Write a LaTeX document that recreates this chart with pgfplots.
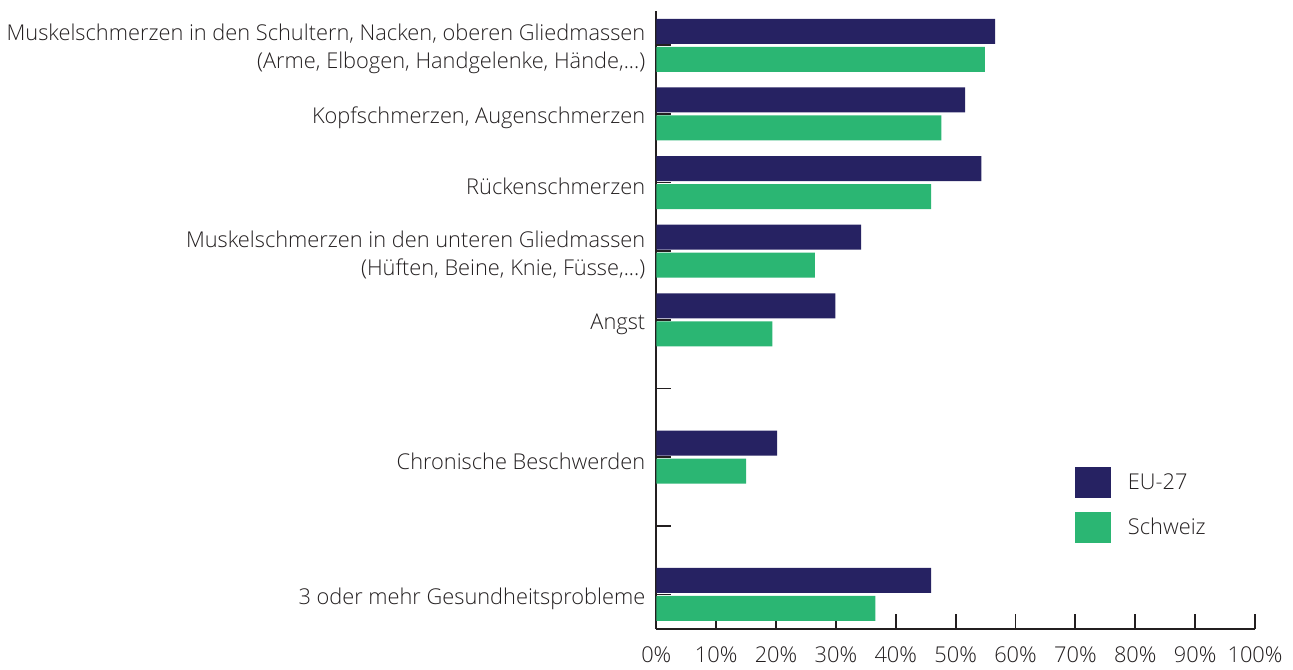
\documentclass[border=0pt]{standalone}
\usepackage{pgfplots}
\pgfplotsset{compat=1.18}
\usepackage{fontspec}
\setmainfont{Open Sans}[UprightFont=* Light]
\definecolor{eu}{RGB}{38,34,98}
\definecolor{ch}{RGB}{43,182,115}
\definecolor{txt}{RGB}{35,31,32}
\newcommand{\dd}{...}
\begin{document}
\begin{tikzpicture}
\begin{axis}[
  name=ax,
  scale only axis,
  width=299.5pt, height=309pt,
  xbar, bar width=12.5pt,
  xmin=0, xmax=100, ymin=-0.5, ymax=8.5,
  axis x line*=bottom, axis y line*=left,
  axis line style={color=txt, line width=0.9pt},
  xtick={0,10,20,30,40,50,60,70,80,90,100},
  xticklabel={\pgfmathprintnumber[assume math mode=true]{\tick}\%},
  ytick={0,1,2,3,4,5,6,7,8},
  yticklabels={
    {3 oder mehr Gesundheitsprobleme},
    {},
    {Chronische Beschwerden},
    {},
    {Angst},
    {Muskelschmerzen in den unteren Gliedmassen\\(Hüften, Beine, Knie, Füsse,\dd)},
    {Rückenschmerzen},
    {Kopfschmerzen, Augenschmerzen},
    {Muskelschmerzen in den Schultern, Nacken, oberen Gliedmassen\\(Arme, Elbogen, Handgelenke, Hände,\dd)}
  },
  tick align=inside,
  major tick length=7.5pt,
  tick style={color=txt, line width=0.9pt},
  yticklabel style={align=right, font=\fontsize{10.9}{14}\selectfont, text=txt, xshift=-2pt, yshift=-2pt},
  xticklabel style={font=\fontsize{10.9}{13}\selectfont, text=txt, yshift=-5.5pt},
  legend style={at={(rel axis cs:0.698,0.262)}, anchor=north west, draw=none, fill=none,
    inner sep=0pt, row sep=7pt, font=\fontsize{10.9}{13}\selectfont, text=txt,
    /tikz/every odd column/.append style={column sep=6.7pt}},
  legend cell align=left,
  legend image code/.code={\fill[#1] (0pt,-7.75pt) rectangle (18pt,7.75pt);},
]
\addplot[fill=eu, draw=none, bar shift=7pt] coordinates {
  (56.6,8) (51.6,7) (54.3,6) (34.2,5) (29.9,4) (20.2,2) (45.9,0)};
\addplot[fill=ch, draw=none, bar shift=-7pt] coordinates {
  (54.9,8) (47.6,7) (45.9,6) (26.5,5) (19.4,4) (15.0,2) (36.6,0)};
\legend{EU-27, Schweiz}
\end{axis}
\path (ax.south west) ++(-328pt,-16.5pt) rectangle ++(646.5pt,331pt);
\end{tikzpicture}
\end{document}
